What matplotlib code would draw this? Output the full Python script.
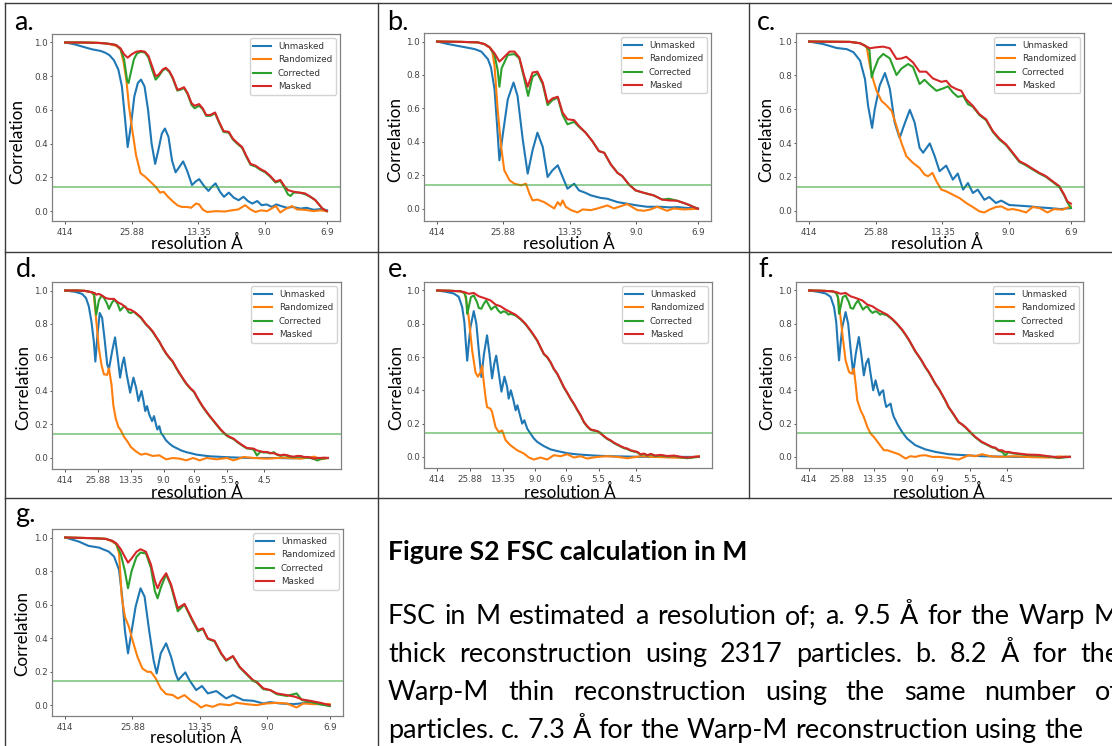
import matplotlib
matplotlib.use("Agg")
import matplotlib.pyplot as plt
from matplotlib.lines import Line2D

# ---------------- data (shell index k, correlation) ----------------
ticks_short = [1, 16, 31, 46, 60]
labels_short = ['414', '25.88', '13.35', '9.0', '6.9']
ticks_long = [1, 16, 31, 46, 60, 75, 92]
labels_long = ['414', '25.88', '13.35', '9.0', '6.9', '5.5', '4.5']
series_names = ['Unmasked', 'Randomized', 'Corrected', 'Masked']
threshold = 0.143

a_unmasked = [(1,1.0),(3,0.99),(5,0.975),(7,0.96),(9,0.95),(10,0.94),(11,0.925),(12,0.895),(13,0.84),(13.8,0.74),(14.5,0.55),(15.1,0.38),(15.8,0.5),(16.6,0.68),(17.4,0.76),(18.1,0.78),(18.9,0.74),(19.7,0.6),(20.5,0.4),(21.3,0.28),(22.0,0.36),(22.8,0.46),(23.5,0.49),(24.3,0.44),(25.1,0.3),(25.9,0.23),(26.7,0.26),(27.6,0.295),(28.5,0.24),(29.6,0.155),(30.4,0.175),(31.2,0.19),(32.3,0.15),(33.3,0.12),(34.1,0.145),(34.9,0.165),(35.9,0.115),(36.8,0.085),(37.9,0.11),(39,0.08),(40.1,0.065),(41.2,0.085),(42.2,0.06),(43.2,0.045),(44.3,0.06),(45.3,0.035),(46.4,0.04),(47.6,0.025),(48.6,0.04),(49.7,0.03),(51,0.02),(52.3,0.025),(54,0.015),(55.4,0.02),(57,0.008),(58.5,0.012),(60,0.005)]
a_randomized = [(1,1.0),(5,1.0),(9,0.998),(11,0.99),(12.5,0.98),(13.5,0.96),(14.2,0.88),(14.8,0.78),(15.4,0.62),(16.2,0.47),(17,0.33),(18,0.225),(19,0.205),(20,0.18),(21.4,0.145),(22.4,0.11),(23.2,0.115),(24.2,0.085),(25.2,0.06),(26.3,0.035),(27.3,0.025),(28.5,0.025),(29.4,0.02),(30.5,0.045),(31.2,0.04),(32,0.01),(33,-0.005),(35,0.0),(37,-0.002),(38.6,0.005),(40,0.01),(41.6,0.035),(42.8,0.01),(43.9,-0.005),(45.2,0.005),(46.5,0.0),(47.8,0.02),(48.5,0.03),(49.5,-0.008),(50.5,0.01),(52.1,0.03),(53.3,0.01),(55,0.008),(57,0.0),(58.5,0.005),(60,0.0)]
a_corrected = [(1,1.0),(5,1.0),(8,0.998),(10,0.995),(11.5,0.99),(12.5,0.985),(13.5,0.96),(14.3,0.9),(15.0,0.77),(15.3,0.76),(15.8,0.82),(16.5,0.9),(17.2,0.935),(18.1,0.945),(19,0.94),(19.8,0.91),(20.6,0.84),(21.4,0.78),(22.1,0.8),(23,0.835),(23.7,0.845),(24.5,0.825),(25.3,0.785),(26.3,0.715),(27,0.72),(27.8,0.73),(28.6,0.695),(29.5,0.63),(30.2,0.61),(31.2,0.625),(32,0.605),(32.8,0.565),(33.7,0.565),(34.8,0.58),(35.7,0.525),(36.7,0.47),(37.9,0.465),(38.8,0.425),(39.8,0.4),(40.9,0.375),(41.8,0.325),(42.8,0.275),(43.9,0.265),(45,0.245),(46.1,0.23),(47.2,0.205),(48.4,0.17),(49.5,0.18),(50.4,0.14),(51.2,0.1),(51.8,0.09),(52.5,0.11),(53.8,0.11),(55.1,0.1),(56.3,0.085),(57.4,0.065),(58.2,0.04),(59,0.015),(60,0.0)]
a_masked = [(1,1.0),(5,1.0),(8,0.998),(10,0.995),(11.5,0.99),(12.5,0.985),(13.5,0.965),(14.3,0.93),(15.1,0.91),(16.0,0.93),(17,0.945),(18.1,0.95),(19,0.945),(19.8,0.92),(20.6,0.86),(21.4,0.8),(22.1,0.81),(23,0.84),(23.7,0.85),(24.5,0.83),(25.3,0.79),(26.3,0.72),(27,0.725),(27.8,0.735),(28.6,0.7),(29.5,0.64),(30.2,0.625),(31.2,0.635),(32,0.61),(32.8,0.57),(33.7,0.57),(34.8,0.585),(35.7,0.53),(36.7,0.475),(37.9,0.47),(38.8,0.43),(39.8,0.405),(40.9,0.38),(41.8,0.33),(42.8,0.28),(43.9,0.27),(45,0.25),(46.1,0.235),(47.2,0.21),(48.4,0.175),(49.5,0.185),(50.4,0.15),(51.2,0.125),(52.5,0.115),(53.8,0.11),(55.1,0.105),(56.3,0.085),(57.4,0.065),(58.2,0.04),(59,0.015),(60,0.0)]

b_unmasked = [(1,1.0),(3.5,0.985),(6.5,0.97),(9.5,0.955),(11,0.94),(12.5,0.895),(13.2,0.845),(14,0.715),(14.6,0.49),(15.1,0.29),(15.9,0.45),(17,0.655),(18.3,0.755),(19.2,0.675),(20.4,0.41),(21.5,0.21),(22.6,0.35),(23.7,0.455),(24.9,0.37),(26,0.19),(27.1,0.23),(28.3,0.26),(29.4,0.19),(30.5,0.12),(32,0.15),(33.1,0.11),(34.6,0.095),(35.8,0.08),(38,0.065),(39.5,0.06),(41.8,0.04),(44,0.03),(46.3,0.02),(48.5,0.012),(51.5,0.012),(53.8,0.008),(55.3,0.01),(57.5,0.005),(60,0.002)]
b_randomized = [(1,1.0),(6.5,0.998),(10.2,0.995),(11.7,0.985),(12.9,0.965),(13.5,0.94),(14,0.855),(14.7,0.595),(15.5,0.37),(16.2,0.23),(17.4,0.17),(18.5,0.15),(20,0.14),(21.1,0.15),(21.9,0.09),(22.6,0.05),(23.7,0.055),(25.2,0.04),(26.4,0.02),(27.5,0.002),(28.3,0.04),(28.9,0.02),(29.4,0.05),(30.1,0.012),(31.3,-0.008),(32.8,-0.022),(33.9,-0.004),(35.8,-0.008),(37.3,0.002),(39.5,0.02),(41,0.002),(44,0.028),(46.3,-0.008),(47.8,-0.012),(49.3,-0.004),(50.8,0.012),(53,-0.012),(54.5,0.002),(56.8,-0.004),(60,0.0)]
b_corrected = [(1,1.0),(6.5,0.998),(10.2,0.995),(11.7,0.985),(12.9,0.965),(14,0.92),(14.7,0.83),(15.1,0.73),(15.6,0.84),(17,0.92),(18.5,0.925),(19.6,0.9),(20.7,0.78),(21.6,0.675),(22.6,0.79),(23.7,0.81),(24.9,0.745),(26,0.62),(27.1,0.65),(28.3,0.665),(29.4,0.56),(30.5,0.505),(32,0.52),(33.1,0.49),(34.6,0.455),(36.1,0.405),(37.6,0.345),(38.8,0.335),(40.3,0.265),(41.8,0.215),(42.9,0.195),(44.4,0.145),(45.9,0.11),(47.8,0.095),(50,0.08),(51.9,0.055),(53.4,0.06),(55.3,0.048),(57.5,0.028),(60,0.0)]
b_masked = [(1,1.0),(6.5,0.998),(10.2,0.995),(11.7,0.985),(12.9,0.965),(14,0.93),(15.1,0.88),(15.9,0.9),(17.4,0.94),(18.5,0.94),(19.6,0.905),(20.7,0.795),(21.5,0.73),(22.6,0.815),(23.7,0.82),(24.9,0.755),(26,0.635),(27.1,0.66),(28.3,0.67),(29.4,0.575),(30.5,0.535),(32,0.53),(33.1,0.495),(34.6,0.455),(36.1,0.405),(37.6,0.345),(38.8,0.335),(40.3,0.265),(41.8,0.215),(42.9,0.195),(44.4,0.145),(45.9,0.11),(47.8,0.095),(50,0.08),(51.9,0.055),(53.4,0.05),(55.3,0.048),(57.5,0.028),(60,0.0)]

c_unmasked = [(1,1.0),(4.2,0.985),(7.2,0.962),(9.5,0.955),(11,0.937),(12.5,0.887),(13.6,0.778),(14.3,0.62),(15.2,0.49),(15.8,0.6),(16.9,0.74),(18.1,0.814),(19.2,0.72),(20.3,0.52),(21.4,0.43),(22.6,0.52),(23.7,0.596),(24.8,0.52),(25.9,0.372),(26.7,0.343),(28.2,0.398),(29.3,0.323),(30.4,0.234),(31.9,0.267),(33.4,0.184),(34.5,0.22),(35.7,0.125),(36.8,0.164),(37.9,0.105),(39,0.125),(40.5,0.065),(41.6,0.081),(43.1,0.046),(44.3,0.06),(46.1,0.034),(48.4,0.03),(50.6,0.026),(52.9,0.02),(55.1,0.016),(57.7,0.01),(60,0.016)]
c_randomized = [(1,1.0),(10.2,0.998),(12.5,0.99),(13.6,0.975),(14,0.965),(14.7,0.857),(15.4,0.778),(16.2,0.709),(17.3,0.65),(18.4,0.624),(19.6,0.59),(20.7,0.5),(21.8,0.402),(22.9,0.323),(24.4,0.283),(25.9,0.253),(27,0.214),(27.8,0.204),(28.8,0.224),(29.7,0.174),(30.8,0.125),(31.9,0.115),(33.4,0.095),(34.9,0.075),(36.4,0.046),(37.9,0.022),(39.4,-0.004),(40.5,-0.01),(41.6,0.006),(43.1,0.022),(44.3,0.026),(45.8,0.006),(46.9,0.01),(48.4,0.002),(49.9,-0.01),(51.4,0.022),(52.9,0.016),(54.7,-0.01),(56.2,0.01),(58.1,0.006),(60,0.026)]
c_corrected = [(1,1.0),(10.2,0.998),(12.5,0.99),(13.6,0.975),(14.6,0.95),(15.1,0.788),(15.6,0.83),(16.6,0.897),(17.7,0.927),(19.2,0.9),(20.7,0.802),(21.8,0.84),(23.3,0.867),(24.4,0.85),(25.9,0.749),(27,0.774),(28.2,0.743),(29.7,0.709),(31.2,0.723),(32.3,0.735),(33.4,0.699),(34.5,0.673),(35.7,0.68),(36.8,0.63),(37.9,0.615),(39.4,0.565),(40.9,0.535),(42.4,0.466),(43.9,0.42),(45.4,0.388),(46.9,0.338),(48.4,0.288),(49.9,0.268),(51.4,0.243),(52.9,0.22),(54.4,0.2),(55.9,0.17),(57.4,0.14),(58.5,0.09),(59.2,0.05),(60,0.016)]
c_masked = [(1,1.0),(10.2,0.998),(12.5,0.99),(13.6,0.975),(14.7,0.96),(15.8,0.965),(17.7,0.97),(19.2,0.96),(20.7,0.897),(21.8,0.9),(22.9,0.91),(24.4,0.877),(25.9,0.822),(27.4,0.822),(28.9,0.782),(30.8,0.762),(31.9,0.768),(33,0.735),(34.2,0.719),(35.3,0.709),(36.4,0.659),(37.9,0.62),(39.4,0.57),(40.9,0.54),(42.4,0.471),(43.9,0.426),(45.4,0.392),(46.9,0.343),(48.4,0.293),(49.9,0.273),(51.4,0.248),(52.9,0.224),(54.4,0.204),(55.9,0.174),(57.4,0.145),(58.5,0.095),(59.2,0.055),(60,0.042)]

d_unmasked = [(1,1.0),(5.6,0.992),(8.7,0.98),(10.5,0.956),(11.8,0.906),(13,0.816),(14.1,0.696),(14.8,0.576),(15.8,0.74),(16.8,0.866),(17.9,0.836),(19.1,0.7),(20.2,0.56),(21,0.53),(22.5,0.64),(23.8,0.72),(25,0.6),(26.1,0.48),(27.1,0.56),(27.9,0.6),(29.1,0.5),(30.7,0.39),(32.2,0.48),(33.4,0.42),(34.5,0.34),(35.9,0.4),(36.8,0.34),(37.6,0.28),(38.4,0.31),(39.4,0.26),(40.7,0.22),(41.6,0.25),(42.5,0.2),(43.1,0.17),(44,0.19),(44.8,0.15),(45.9,0.13),(47.1,0.105),(48.7,0.085),(50.2,0.07),(51.7,0.06),(54,0.045),(56.3,0.035),(58.6,0.028),(61,0.02),(64,0.015),(67.1,0.01),(71.7,0.007),(76.3,0.004),(80.9,0.002),(85.5,0.0),(91.7,0.0),(97.8,0.0),(104,-0.002),(110,0.0),(116,0.0),(121,0.0)]
d_randomized = [(1,1.0),(6,1.0),(10,0.998),(13,0.99),(14.1,0.975),(15.1,0.836),(16.4,0.656),(17.6,0.556),(18.7,0.5),(20.2,0.496),(21,0.536),(22.2,0.436),(23,0.316),(24.1,0.236),(25.3,0.186),(26.4,0.166),(27.9,0.126),(29.4,0.1),(31,0.066),(33.3,0.04),(35.6,0.02),(37.9,0.026),(41,0.012),(44,0.016),(47.1,-0.008),(50.2,0.0),(53.3,-0.004),(56.3,-0.014),(59.4,0.0),(62.5,-0.014),(65.6,0.0),(70.2,-0.008),(74.8,0.0),(77.9,-0.014),(82.5,0.006),(87.1,0.0),(93.2,-0.004),(100.9,0.002),(108.6,-0.004),(114.8,0.008),(117.8,-0.008),(121,0.0)]
d_corrected = [(1,1.0),(6,1.0),(10,0.998),(13,0.99),(14.3,0.975),(15.2,0.856),(16.4,0.94),(17.6,0.97),(18.8,0.955),(20.2,0.92),(21,0.89),(22.5,0.93),(23.5,0.945),(25,0.92),(26.1,0.88),(27.5,0.9),(28.5,0.905),(30,0.87),(31,0.865),(32.2,0.875),(33.3,0.862),(35.6,0.836),(37.9,0.797),(39.4,0.777),(41,0.752),(42.5,0.722),(44,0.693),(45.5,0.657),(47.1,0.623),(48.6,0.597),(50.2,0.573),(51.7,0.537),(53.3,0.503),(54.8,0.472),(56.3,0.443),(58,0.417),(59.9,0.393),(61.2,0.362),(62.5,0.333),(64,0.302),(65.6,0.273),(67.1,0.247),(68.6,0.223),(70.2,0.197),(71.7,0.173),(73.2,0.152),(74.8,0.133),(76.3,0.122),(77.9,0.113),(79.4,0.097),(80.9,0.083),(82.5,0.069),(84,0.057),(85.5,0.055),(87.1,0.05),(88.6,0.015),(90.2,0.037),(91.7,0.033),(93.2,0.033),(94.7,0.027),(96.3,0.035),(97.8,0.019),(99.4,0.013),(101,0.017),(102.5,0.013),(104,0.007),(105.5,0.005),(107,0.009),(108.6,0.009),(110.1,0.003),(111.7,0.003),(113.2,-0.001),(114.8,-0.007),(116.3,-0.015),(117.8,-0.005),(119.3,-0.003),(121,0.0)]
d_masked = [(1,1.0),(6,1.0),(10,0.998),(13,0.99),(14.5,0.985),(15.3,0.975),(16.4,0.98),(17.9,0.97),(19.4,0.956),(21,0.95),(23.3,0.95),(25,0.93),(27.1,0.916),(29.4,0.89),(31,0.885),(33.3,0.866),(35.6,0.84),(37.9,0.8),(39.4,0.78),(41,0.756),(42.5,0.725),(44,0.696),(45.5,0.66),(47.1,0.626),(48.6,0.6),(50.2,0.576),(51.7,0.54),(53.3,0.506),(54.8,0.475),(56.3,0.446),(58,0.42),(59.9,0.396),(61.2,0.365),(62.5,0.336),(64,0.305),(65.6,0.276),(67.1,0.25),(68.6,0.226),(70.2,0.2),(71.7,0.176),(73.2,0.155),(74.8,0.136),(76.3,0.125),(77.9,0.116),(79.4,0.1),(80.9,0.086),(82.5,0.072),(84,0.06),(85.5,0.058),(87.1,0.056),(88.6,0.045),(90.2,0.04),(91.7,0.036),(93.2,0.036),(94.7,0.03),(96.3,0.028),(97.8,0.022),(99.4,0.016),(101,0.02),(102.5,0.016),(104,0.01),(105.5,0.008),(107,0.012),(108.6,0.012),(110.1,0.006),(111.7,0.006),(113.2,0.002),(114.8,-0.004),(116.3,0.0),(117.8,0.0),(119.3,0.002),(121,0.0)]

e_unmasked = [(1,1.0),(5,0.992),(8.6,0.982),(10.9,0.962),(12.5,0.9),(13.5,0.81),(14.3,0.66),(14.8,0.578),(15.5,0.68),(16.3,0.78),(17.8,0.876),(19,0.8),(20.1,0.64),(21.3,0.48),(22.5,0.62),(23.9,0.73),(25,0.62),(26.2,0.472),(27.2,0.56),(28.1,0.608),(29.3,0.5),(30.5,0.392),(31.9,0.482),(33.1,0.42),(33.8,0.35),(34.8,0.4),(36,0.34),(37,0.28),(37.8,0.31),(39,0.25),(40,0.2),(41,0.22),(42.3,0.17),(43.8,0.14),(45.4,0.11),(46.9,0.09),(49.9,0.065),(53,0.045),(56.1,0.035),(60.7,0.022),(65.2,0.015),(72.9,0.008),(80.5,0.004),(88.2,0.002),(95.8,0.0),(103.5,0.0),(111,0.0),(121,0.0)]
e_randomized = [(1,1.0),(7.1,0.998),(11.7,0.995),(13.5,0.985),(14.5,0.93),(15.5,0.837),(17.1,0.637),(18.6,0.508),(19.7,0.482),(20.9,0.508),(21.6,0.548),(22.4,0.448),(23.2,0.359),(23.9,0.299),(25.5,0.289),(26.2,0.269),(27.8,0.179),(29.3,0.149),(30.8,0.159),(32.4,0.1),(34.6,0.07),(37.7,0.04),(40.8,0.02),(43.1,-0.004),(45.4,-0.016),(48.4,-0.004),(51.5,-0.016),(54.5,0.01),(57.6,0.004),(60.7,0.016),(63.7,-0.004),(66.8,0.004),(69.8,-0.01),(74.4,0.0),(79,0.004),(83.6,0.0),(88.2,-0.008),(94.3,0.004),(100.4,0.0),(108,-0.004),(115.7,-0.006),(121,0.004)]
e_corrected = [(1,1.0),(7.1,0.998),(11.7,0.995),(13.5,0.985),(14.3,0.96),(14.8,0.86),(15.5,0.9),(16.5,0.96),(17.8,0.97),(19.3,0.93),(20.1,0.895),(21.3,0.89),(22.4,0.92),(23.5,0.94),(24.8,0.91),(25.8,0.885),(27,0.9),(27.8,0.905),(29,0.88),(30.2,0.865),(31.5,0.875),(32.5,0.87),(33.7,0.855),(34.6,0.86),(36.9,0.85),(39.2,0.827),(41.5,0.797),(43.8,0.757),(45.4,0.727),(46.9,0.697),(48.4,0.657),(49.9,0.617),(51.5,0.597),(53,0.567),(54.5,0.527),(56.1,0.497),(57.6,0.457),(59.1,0.417),(60.7,0.382),(62.2,0.347),(63.7,0.317),(65.2,0.282),(66.8,0.247),(68.3,0.207),(69.8,0.182),(71.4,0.162),(72.9,0.157),(74.4,0.155),(75.9,0.145),(77.5,0.122),(79,0.107),(80.5,0.097),(82.1,0.082),(83.6,0.072),(85.1,0.062),(86.7,0.052),(88.2,0.047),(89.7,0.037),(91.2,0.032),(92.8,0.027),(94.3,0.012),(95.8,0.017),(97.4,0.007),(98.9,0.015),(101,0.005),(103.5,0.009),(106.5,0.002),(109.6,0.005),(112.7,-0.003),(115.7,-0.008),(118.8,-0.003),(121,0.0)]
e_masked = [(1,1.0),(7.1,0.998),(11.7,0.995),(13.5,0.99),(15.5,0.98),(17.8,0.985),(20.1,0.965),(22.4,0.955),(25.5,0.94),(27.8,0.915),(30.1,0.905),(32.4,0.885),(34.6,0.87),(36.9,0.855),(39.2,0.83),(41.5,0.8),(43.8,0.76),(45.4,0.73),(46.9,0.7),(48.4,0.66),(49.9,0.62),(51.5,0.6),(53,0.57),(54.5,0.53),(56.1,0.5),(57.6,0.46),(59.1,0.42),(60.7,0.385),(62.2,0.35),(63.7,0.32),(65.2,0.285),(66.8,0.25),(68.3,0.21),(69.8,0.185),(71.4,0.165),(72.9,0.16),(74.4,0.155),(75.9,0.14),(77.5,0.125),(79,0.11),(80.5,0.1),(82.1,0.085),(83.6,0.075),(85.1,0.065),(86.7,0.055),(88.2,0.05),(89.7,0.04),(91.2,0.035),(92.8,0.03),(94.3,0.015),(95.8,0.02),(97.4,0.01),(98.9,0.018),(101,0.008),(103.5,0.012),(106.5,0.005),(109.6,0.008),(112.7,0.0),(115.7,-0.005),(118.8,0.0),(121,0.002)]

f_unmasked = [(1,1.0),(5,0.992),(8.6,0.982),(10.9,0.962),(12.5,0.9),(13.5,0.81),(14.3,0.66),(14.8,0.58),(15.5,0.68),(16.3,0.78),(17.8,0.87),(19,0.8),(20.1,0.65),(21.3,0.5),(22.5,0.62),(23.9,0.72),(25,0.62),(26.2,0.49),(27.2,0.56),(28.3,0.59),(29.3,0.5),(30.5,0.4),(31.6,0.46),(32.5,0.41),(33.4,0.37),(34.2,0.39),(35.1,0.4),(35.8,0.34),(36.5,0.3),(37.5,0.31),(38.5,0.32),(39.3,0.27),(40,0.24),(40.8,0.22),(41.5,0.2),(42.6,0.175),(43.8,0.15),(46.1,0.11),(49.9,0.07),(54.5,0.045),(59.1,0.03),(65.2,0.016),(72.9,0.01),(80.5,0.004),(95.8,0.0),(121,0.0)]
f_randomized = [(1,1.0),(7.1,0.998),(11.7,0.995),(13.5,0.985),(14.5,0.95),(15.3,0.86),(16.5,0.72),(17.8,0.58),(19.4,0.51),(20.6,0.5),(21.6,0.53),(22.4,0.44),(23.2,0.34),(24.7,0.28),(26.2,0.24),(27.8,0.18),(29.3,0.14),(30.8,0.12),(33.1,0.08),(35.4,0.04),(37,0.04),(39.2,0.03),(42.3,0.016),(45.4,-0.01),(47.6,0.004),(49.9,0.0),(52.2,0.008),(54.5,0.01),(57.6,0.0),(60.7,0.0),(65.2,-0.006),(69.8,-0.016),(74.4,0.01),(77.5,0.004),(80.5,0.016),(84.4,0.004),(88.2,0.0),(95.8,0.004),(103.5,-0.002),(111.1,-0.004),(116,0.002),(121,0.0)]
f_corrected = [(1,1.0),(7.1,0.998),(11.7,0.995),(13.5,0.985),(14.3,0.96),(14.8,0.86),(15.5,0.9),(16.5,0.96),(17.8,0.97),(19.3,0.93),(20.1,0.895),(21.3,0.89),(22.4,0.92),(23.5,0.94),(24.8,0.91),(25.8,0.885),(27,0.9),(27.8,0.905),(29,0.88),(30.2,0.865),(31.5,0.875),(32.5,0.87),(33.7,0.855),(34.6,0.86),(36.9,0.85),(39.2,0.827),(41.5,0.797),(43.8,0.762),(45.4,0.732),(46.9,0.702),(48.4,0.667),(49.9,0.632),(51.5,0.602),(53,0.572),(54.5,0.537),(56.1,0.507),(57.6,0.472),(59.1,0.437),(60.7,0.407),(62.2,0.372),(63.7,0.337),(65.2,0.297),(66.8,0.267),(68.3,0.237),(69.8,0.207),(71.4,0.195),(72.9,0.177),(74.4,0.157),(75.9,0.137),(77.5,0.117),(79,0.102),(80.5,0.087),(82.1,0.077),(83.6,0.067),(85.1,0.057),(86.7,0.052),(88.2,0.037),(89.7,0.03),(91.2,0.01),(92.8,0.028),(94.3,0.022),(97.4,0.017),(101.2,0.011),(106.5,0.009),(111.1,0.001),(115.7,-0.007),(118.8,-0.003),(121,0.0)]
f_masked = [(1,1.0),(7.1,0.998),(11.7,0.995),(13.5,0.99),(15.5,0.98),(17.8,0.985),(20.1,0.965),(22.4,0.955),(25.5,0.94),(27.8,0.915),(30.1,0.905),(32.4,0.885),(34.6,0.87),(36.9,0.855),(39.2,0.83),(41.5,0.8),(43.8,0.765),(45.4,0.735),(46.9,0.705),(48.4,0.67),(49.9,0.635),(51.5,0.605),(53,0.575),(54.5,0.54),(56.1,0.51),(57.6,0.475),(59.1,0.44),(60.7,0.41),(62.2,0.375),(63.7,0.34),(65.2,0.3),(66.8,0.27),(68.3,0.24),(69.8,0.21),(71.4,0.195),(72.9,0.18),(74.4,0.16),(75.9,0.14),(77.5,0.12),(79,0.105),(80.5,0.09),(82.1,0.08),(83.6,0.07),(85.1,0.06),(86.7,0.055),(88.2,0.04),(89.7,0.04),(91.2,0.03),(92.8,0.03),(94.3,0.025),(97.4,0.02),(101.2,0.014),(106.5,0.012),(111.1,0.004),(115.7,-0.004),(118.8,0.0),(121,0.0)]

g_unmasked = [(1,1.0),(4,0.976),(6.2,0.95),(8.5,0.94),(10.7,0.916),(11.9,0.886),(13,0.807),(13.7,0.647),(14.3,0.448),(15,0.309),(15.6,0.408),(16.7,0.588),(17.8,0.697),(18.7,0.647),(19.7,0.448),(20.7,0.269),(21.4,0.189),(22.3,0.309),(23.5,0.369),(24.6,0.289),(25.6,0.189),(26.2,0.149),(27.2,0.179),(27.8,0.195),(28.7,0.149),(30.2,0.09),(31.5,0.114),(32.8,0.07),(34.7,0.084),(36.9,0.04),(38.4,0.06),(40.7,0.03),(42.9,0.026),(45.2,0.01),(46.7,0.018),(48.9,0.01),(51.9,0.006),(54.9,0.014),(57.9,0.006),(60,0.0)]
g_randomized = [(1,1.0),(7,0.996),(10,0.992),(11.2,0.98),(12.4,0.96),(13,0.906),(13.6,0.647),(14.3,0.528),(15.2,0.468),(16,0.388),(17.1,0.289),(18.2,0.219),(19.3,0.199),(20.1,0.199),(21.2,0.159),(22.3,0.1),(23.5,0.066),(25,0.06),(26.1,0.04),(27.6,0.06),(29.1,0.026),(30.2,0.01),(31.3,-0.014),(32.4,0.0),(33.9,-0.01),(35.4,0.006),(37.7,0.0),(39.2,0.014),(41.4,0.006),(43.7,0.0),(45.9,0.01),(48.2,0.014),(50.4,0.01),(52.6,-0.014),(54.1,0.01),(56.4,0.006),(60,0.006)]
g_corrected = [(1,1.0),(7,0.996),(10,0.992),(11.5,0.98),(12.4,0.96),(13.4,0.9),(14.3,0.8),(15,0.697),(15.8,0.8),(16.9,0.885),(17.8,0.91),(19,0.905),(20.1,0.82),(21,0.68),(21.6,0.637),(22.3,0.7),(23.5,0.78),(24.6,0.71),(26.1,0.56),(27.6,0.6),(29.4,0.5),(30.6,0.44),(31.7,0.455),(32.8,0.395),(34.3,0.38),(35.8,0.305),(36.9,0.265),(38.4,0.29),(39.9,0.225),(41.4,0.185),(42.9,0.145),(43.7,0.135),(45.2,0.095),(46.7,0.09),(48.2,0.065),(50.4,0.055),(52.6,0.07),(53.8,0.03),(55.6,0.02),(57.9,0.005),(60,-0.006)]
g_masked = [(1,1.0),(7,0.996),(10,0.992),(11.5,0.98),(12.4,0.965),(13.4,0.93),(14.3,0.885),(15,0.85),(15.8,0.875),(16.9,0.915),(17.8,0.93),(19,0.915),(20.1,0.84),(21,0.74),(21.6,0.697),(22.3,0.74),(23.5,0.787),(24.6,0.72),(26.1,0.578),(27.6,0.604),(29.4,0.508),(30.6,0.448),(31.7,0.458),(32.8,0.398),(34.3,0.384),(35.8,0.309),(36.9,0.269),(38.4,0.293),(39.9,0.229),(41.4,0.189),(42.9,0.149),(43.7,0.139),(45.2,0.1),(46.7,0.09),(48.2,0.07),(50.4,0.06),(52.3,0.05),(53.8,0.034),(55.6,0.026),(57.9,0.014),(60,0.0)]

caption_title = "Figure S2 FSC calculation in M"
caption_lines = [
    "FSC in M estimated a resolution of; a. 9.5 Å for the Warp M",
    "thick reconstruction using 2317 particles. b. 8.2 Å for the",
    "Warp-M thin reconstruction using the same number of",
    "particles. c. 7.3 Å for the Warp-M reconstruction using the",
]

# ---------------- layout ----------------
W, H = 1112, 746
fig = plt.figure(figsize=(W / 100, H / 100), dpi=100)
fig.patch.set_facecolor('white')
renderer = fig.canvas.get_renderer()
DOC_FONT = ['Lato', 'DejaVu Sans']
COLORS = ['#1f77b4', '#ff7f0e', '#2ca02c', '#d62728']


def fx(x):
    return x / W


def fy(y):
    return 1 - y / H


def text_width(s, size, weight='normal', family=DOC_FONT):
    t = fig.text(0, 0, s, fontsize=size, fontweight=weight, family=family)
    w = t.get_window_extent(renderer).width
    t.remove()
    return w


def fit_size(s, target, weight='normal'):
    return 20 * target / text_width(s, 20, weight)


body_fs = fit_size(caption_lines[3], 695)
title_fs = fit_size(caption_title, 359, 'bold')
label_fs = fit_size("resolution Å", 92)

panels = [
    ('a.', [a_unmasked, a_randomized, a_corrected, a_masked], (52, 34, 340, 221), ticks_short, labels_short, (14, 30), (17, 141), (197, 243)),
    ('b.', [b_unmasked, b_randomized, b_corrected, b_masked], (424, 33, 711, 221), ticks_short, labels_short, (387, 30), (395, 139), (569, 243)),
    ('c.', [c_unmasked, c_randomized, c_corrected, c_masked], (796, 33, 1084, 221), ticks_short, labels_short, (757, 30), (766, 139), (937, 243)),
    ('d.', [d_unmasked, d_randomized, d_corrected, d_masked], (52, 282, 341, 469), ticks_long, labels_long, (16, 277), (23, 388), (197, 492)),
    ('e.', [e_unmasked, e_randomized, e_corrected, e_masked], (424, 282, 712, 468), ticks_long, labels_long, (388, 277), (396, 388), (570, 492)),
    ('f.', [f_unmasked, f_randomized, f_corrected, f_masked], (796, 282, 1083, 468), ticks_long, labels_long, (758, 277), (767, 388), (939, 492)),
    ('g.', [g_unmasked, g_randomized, g_corrected, g_masked], (52, 529, 343, 716), ticks_short, labels_short, (15, 522), (22, 634), (196, 737)),
]

for letter, series, (l, t, r, b), tk, tl, lpos, ypos, xpos in panels:
    ax = fig.add_axes([fx(l), fy(b), (r - l) / W, (b - t) / H])
    for data, name, col in zip(series, series_names, COLORS):
        xs = [p[0] for p in data]
        ys = [p[1] for p in data]
        ax.plot(xs, ys, color=col, lw=1.5, label=name)
    ax.axhline(threshold, color='#2ca02c', alpha=0.6, lw=1.2)
    ax.set_xticks(tk)
    ax.set_xticklabels(tl)
    ax.set_yticks([0.0, 0.2, 0.4, 0.6, 0.8, 1.0])
    ax.tick_params(axis='both', labelsize=6.3, colors='#555555', labelcolor='#444444', width=0.7)
    ax.tick_params(axis='x', length=2.2, pad=2.8)
    ax.tick_params(axis='y', length=1.8, pad=1.2)
    for sp in ax.spines.values():
        sp.set_color('#808080')
        sp.set_linewidth(0.9)
    leg = ax.legend(loc='upper right', fontsize=6.3, framealpha=0.85, edgecolor='#cccccc', fancybox=True)
    for txt in leg.get_texts():
        txt.set_color('#333333')
    fig.text(fx(lpos[0]), fy(lpos[1]), letter, fontsize=body_fs, family=DOC_FONT, ha='left', va='baseline', color='black')
    fig.text(fx(ypos[0]), fy(ypos[1]), "Correlation", fontsize=label_fs, family=DOC_FONT, rotation=90, ha='center', va='center', color='black')
    fig.text(fx(xpos[0]), fy(xpos[1]), "resolution Å", fontsize=label_fs, family=DOC_FONT, ha='center', va='center', color='black')

# ---------------- caption text ----------------
fig.text(fx(388), fy(560), caption_title, fontsize=title_fs, fontweight='bold', family=DOC_FONT, ha='left', va='baseline', color='black')


def justified(line, x0, x1, y, size):
    words = line.split(' ')
    widths = [text_width(w, size) for w in words]
    gap = (x1 - x0 - sum(widths)) / (len(words) - 1)
    x = x0
    for w, wd in zip(words, widths):
        fig.text(fx(x), fy(y), w, fontsize=size, family=DOC_FONT, ha='left', va='baseline', color='black')
        x += wd + gap


baselines = [624, 662, 700, 738]
rights = [1119, 1119, 1119, 1083]
for line, yb, xr in zip(caption_lines, baselines, rights):
    justified(line, 388, xr, yb, body_fs)

# ---------------- table grid ----------------
grid_kw = dict(color='#3a3a3a', lw=1.0, transform=fig.transFigure)
fig.add_artist(Line2D([fx(4.5), fx(W)], [fy(3), fy(3)], **grid_kw))
fig.add_artist(Line2D([fx(4.5), fx(W)], [fy(252), fy(252)], **grid_kw))
fig.add_artist(Line2D([fx(4.5), fx(W)], [fy(498), fy(498)], **grid_kw))
fig.add_artist(Line2D([fx(4.5), fx(4.5)], [fy(3), fy(H)], **grid_kw))
fig.add_artist(Line2D([fx(377.5), fx(377.5)], [fy(3), fy(H)], **grid_kw))
fig.add_artist(Line2D([fx(749), fx(749)], [fy(3), fy(498)], **grid_kw))

fig.savefig('out.png', dpi=100, facecolor='white')
